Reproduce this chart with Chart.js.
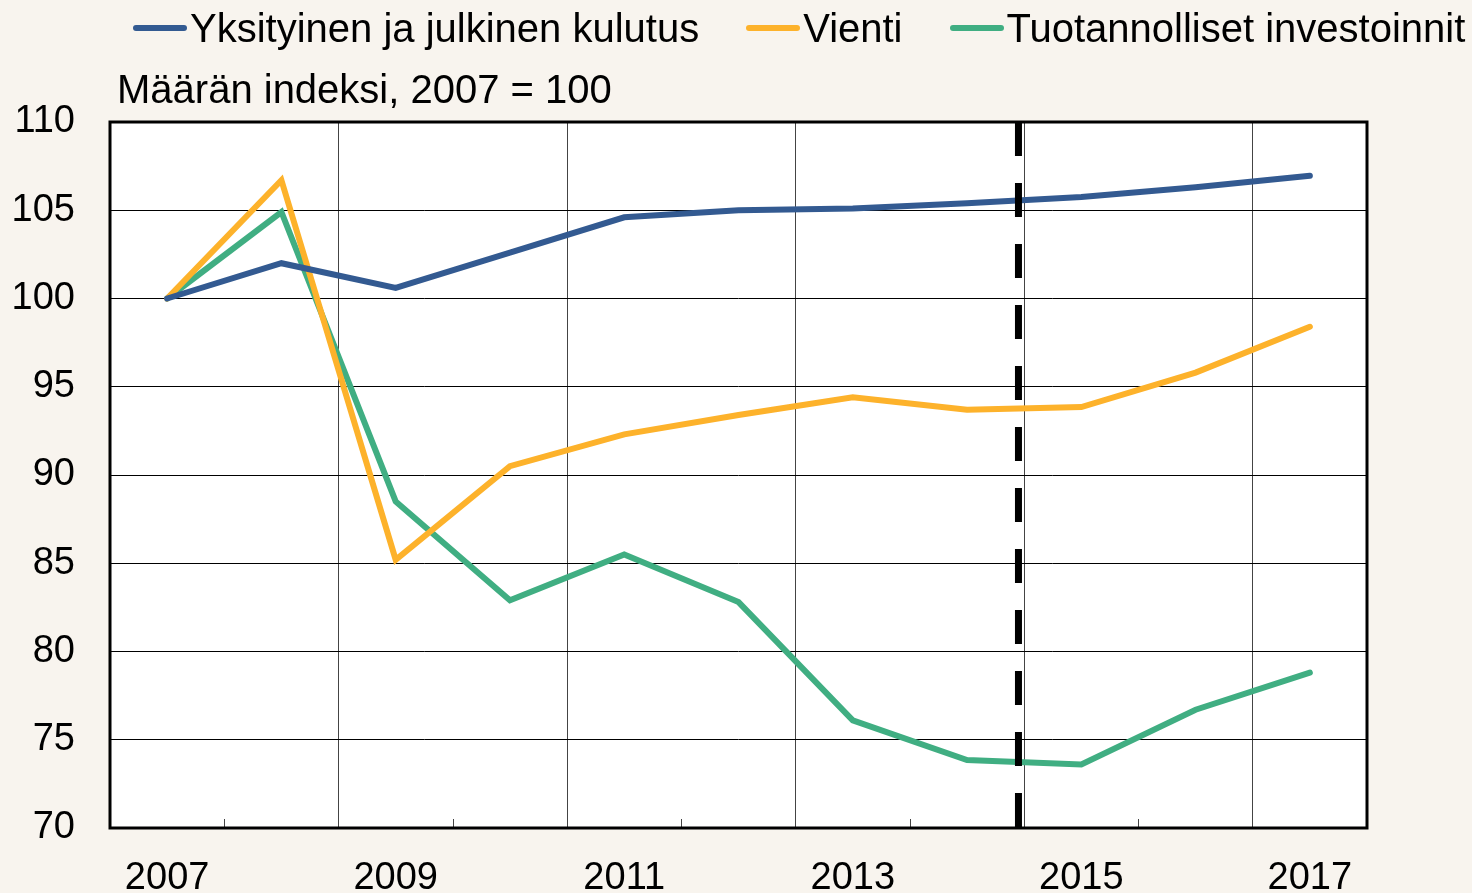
<!DOCTYPE html>
<html>
<head>
<meta charset="utf-8">
<script src="https://cdn.jsdelivr.net/npm/chart.js@4"></script>
<style>
  body { margin: 0; background: #f8f4ee; }
  #wrap { position: relative; width: 1472px; height: 893px; font-family: "Liberation Sans", Arial, sans-serif; }
  #legend { position: absolute; left: 133px; top: 8px; display: flex; font-size: 40px; line-height: 40px; color: #000; white-space: nowrap; }
  .item { display: flex; align-items: center; margin-right: 47px; }
  .mark { width: 54px; height: 6px; border-radius: 3px; margin-right: 3px; }
  #unit { position: absolute; left: 117px; top: 69px; font-size: 40px; line-height: 40px; color: #000; }
</style>
</head>
<body>
<div id="wrap">
  <canvas id="myChart" width="1472" height="893"></canvas>
  <div id="legend"></div>
  <div id="unit">Määrän indeksi, 2007 = 100</div>
</div>
<script>
var years = ['2007', '2008', '2009', '2010', '2011', '2012', '2013', '2014', '2015', '2016', '2017'];
var kulutus = [100, 102.0, 100.6, 102.6, 104.6, 105.0, 105.1, 105.4, 105.75, 106.3, 106.95];
var vienti = [100, 106.7, 85.2, 90.5, 92.3, 93.4, 94.4, 93.7, 93.85, 95.8, 98.4];
var investoinnit = [100, 104.9, 88.5, 82.9, 85.5, 82.8, 76.1, 73.85, 73.6, 76.7, 78.8];
var yTicks = [70, 75, 80, 85, 90, 95, 100, 105, 110];
// ennusteen alku: vuosien 2014 ja 2015 välissä (kategoriaindeksinä)
var forecastStart = 7.45;

var framePlugin = {
  id: 'frame',
  beforeDraw: function (chart) {
    var a = chart.chartArea, c = chart.ctx;
    c.save();
    c.fillStyle = '#ffffff';
    c.fillRect(a.left, a.top, a.right - a.left, a.bottom - a.top);
    c.restore();
  },
  afterDatasetsDraw: function (chart) {
    var a = chart.chartArea, c = chart.ctx, x = chart.scales.x;
    c.save();
    // pienet väliviivat alareunassa
    c.strokeStyle = '#444';
    c.lineWidth = 1;
    for (var i = 1; i < years.length; i += 2) {
      var px = Math.round((x.getPixelForValue(i - 1) + x.getPixelForValue(i)) / 2) + 0.5;
      c.beginPath();
      c.moveTo(px, a.bottom);
      c.lineTo(px, a.bottom - 9);
      c.stroke();
    }
    // katkoviiva
    var fx = x.getPixelForValue(forecastStart);
    c.strokeStyle = '#000';
    c.lineWidth = 7;
    c.setLineDash([34, 27]);
    c.beginPath();
    c.moveTo(fx, a.top);
    c.lineTo(fx, a.bottom);
    c.stroke();
    c.setLineDash([]);
    // kehys
    c.lineWidth = 3;
    c.strokeRect(a.left, a.top, a.right - a.left, a.bottom - a.top);
    c.restore();
  }
};

var ctx = document.getElementById('myChart').getContext('2d');
var chart = new Chart(ctx, {
  type: 'line',
  data: {
    labels: years,
    datasets: [
      { label: 'Yksityinen ja julkinen kulutus', data: kulutus, borderColor: '#335a91' },
      { label: 'Vienti', data: vienti, borderColor: '#fdb22b' },
      { label: 'Tuotannolliset investoinnit', data: investoinnit, borderColor: '#40ae82' }
    ]
  },
  options: {
    responsive: false,
    animation: false,
    layout: { padding: { top: 122, right: 105, left: 0, bottom: 0 } },
    elements: {
      line: { borderWidth: 6, tension: 0, fill: false, borderCapStyle: 'round' },
      point: { radius: 0 }
    },
    plugins: { legend: { display: false }, title: { display: false }, tooltip: { enabled: false } },
    scales: {
      x: {
        offset: true,
        afterFit: function (s) { s.height = 65; },
        border: { display: false },
        grid: {
          offset: true,
          drawTicks: false,
          lineWidth: 1,
          color: function (c) { return (c.index > 0 && c.index < years.length && c.index % 2 === 0) ? '#444' : 'rgba(0,0,0,0)'; }
        },
        ticks: {
          autoSkip: false,
          maxRotation: 0,
          padding: 28,
          color: '#000',
          font: { family: '"Liberation Sans", Arial, sans-serif', size: 38 },
          callback: function (v, i) { return i % 2 === 0 ? years[i] : ''; }
        }
      },
      y: {
        min: 70,
        max: 110,
        afterFit: function (s) { s.width = 110; },
        afterBuildTicks: function (s) { s.ticks = yTicks.map(function (v) { return { value: v }; }); },
        border: { display: false },
        grid: { drawTicks: false, color: '#000', lineWidth: 1 },
        ticks: {
          padding: 35,
          color: '#000',
          font: { family: '"Liberation Sans", Arial, sans-serif', size: 38 }
        }
      }
    }
  },
  plugins: [framePlugin]
});

var legend = document.getElementById('legend');
chart.data.datasets.forEach(function (ds) {
  var item = document.createElement('div');
  item.className = 'item';
  var mark = document.createElement('span');
  mark.className = 'mark';
  mark.style.background = ds.borderColor;
  var txt = document.createElement('span');
  txt.textContent = ds.label;
  item.appendChild(mark);
  item.appendChild(txt);
  legend.appendChild(item);
});
</script>
</body>
</html>
